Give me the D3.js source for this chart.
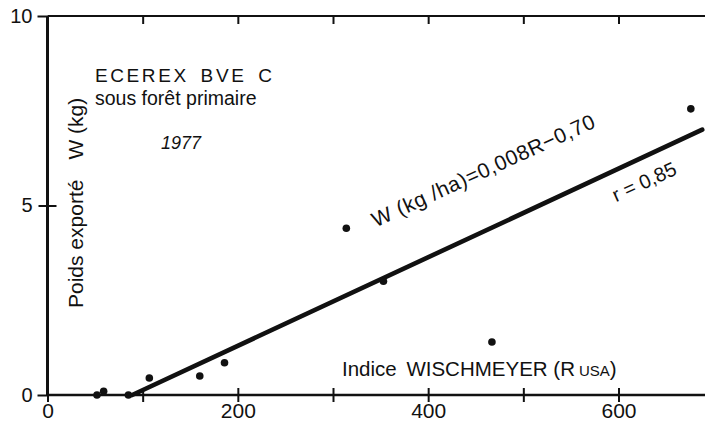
<!DOCTYPE html>
<html>
<head>
<meta charset="utf-8">
<script src="https://cdn.jsdelivr.net/npm/d3@7"></script>
<style>
  html, body { margin: 0; padding: 0; background: #fff; }
  svg { display: block; }
  text { font-family: 'Liberation Sans', Arial, Helvetica, sans-serif; fill: #111; }
</style>
</head>
<body>
<script>
/* global d3 */

// observations: Wischmeyer index R (USA) vs exported weight W (kg)
let rValues = [52, 59, 85, 107, 160, 186, 314, 353, 467, 676]
let wValues = [0, 0.1, 0, 0.45, 0.5, 0.85, 4.4, 3.0, 1.4, 7.55]

// regression line as drawn on the figure (ends)
let fitR = [89, 688]
let fitW = [0, 7.0]

let xTicks = [0, 100, 200, 300, 400, 500, 600]
let xLabelled = [0, 200, 400, 600]
let yTicks = [0, 5, 10]

let titleLines = ['ECEREX BVE C', 'sous forêt primaire']
let yearLabel = '1977'
let yLabelParts = ['Poids exporté', 'W (kg)']
let xLabel = 'Indice WISCHMEYER (R'
let xLabelSub = 'USA'
let equationLabel = 'W (kg /ha)=0,008R\u22120,70'
let corrLabel = 'r = 0,85'

function main () {
  let width = 705
  let height = 429
  let svg = d3.select('body').append('svg')
    .attr('width', width)
    .attr('height', height)

  let x = d3.scaleLinear().domain([0, 600]).range([47.5, 618.5])
  let y = d3.scaleLinear().domain([0, 10]).range([395, 16])
  let xEnd = x.invert(width)

  renderFrame({svg, x, y, xEnd})
  renderAxes({svg, x, y})
  renderFit({svg, x, y})
  renderPoints({svg, x, y})
  renderLabels({svg, x, y})
}

function renderFrame ({svg, x, y, xEnd}) {
  // left axis line
  svg.append('line')
    .attr('x1', x(0)).attr('x2', x(0))
    .attr('y1', y(10)).attr('y2', y(0))
    .attr('stroke', '#111').attr('stroke-width', 3)
  // bottom axis line
  svg.append('line')
    .attr('x1', x(0)).attr('x2', x(xEnd))
    .attr('y1', y(0)).attr('y2', y(0))
    .attr('stroke', '#111').attr('stroke-width', 2.4)
  // top frame line
  svg.append('line')
    .attr('x1', x(0)).attr('x2', x(xEnd))
    .attr('y1', y(10)).attr('y2', y(10))
    .attr('stroke', '#111').attr('stroke-width', 2.2)
}

function renderAxes ({svg, x, y}) {
  let xAxis = d3.axisBottom(x)
    .tickValues(xTicks)
    .tickSizeInner(7)
    .tickSizeOuter(0)
    .tickPadding(1)
    .tickFormat(d => xLabelled.includes(d) ? d : '')
  let xG = svg.append('g')
    .attr('transform', `translate(0, ${y(0)})`)
    .call(xAxis)
  xG.select('.domain').remove()
  xG.selectAll('.tick line')
    .attr('y1', -7)
    .attr('stroke', '#111').attr('stroke-width', 2)
  xG.selectAll('.tick text')
    .style('font-size', '21px')
    .attr('fill', '#111')

  let topAxis = d3.axisBottom(x)
    .tickValues(xTicks.filter(d => d > 0))
    .tickSizeInner(8)
    .tickSizeOuter(0)
    .tickFormat('')
  let topG = svg.append('g')
    .attr('transform', `translate(0, ${y(10)})`)
    .call(topAxis)
  topG.select('.domain').remove()
  topG.selectAll('.tick line')
    .attr('stroke', '#111').attr('stroke-width', 2)

  let yAxis = d3.axisLeft(y)
    .tickValues(yTicks)
    .tickSizeInner(10)
    .tickSizeOuter(0)
    .tickPadding(5)
  let yG = svg.append('g')
    .attr('transform', `translate(${x(0)}, 0)`)
    .call(yAxis)
  yG.select('.domain').remove()
  yG.selectAll('.tick line')
    .attr('x2', d => d === 5 ? 9 : -10)
    .attr('x1', d => d === 5 ? -9 : 0)
    .attr('stroke', '#111').attr('stroke-width', 2)
  yG.selectAll('.tick text')
    .style('font-size', '20px')
    .attr('fill', '#111')
}

function renderFit ({svg, x, y}) {
  let pts = fitR.map((r, i) => ({r, w: fitW[i]}))
  svg.append('path')
    .datum(pts)
    .attr('fill', 'none')
    .attr('stroke', '#111')
    .attr('stroke-width', 4.6)
    .attr('stroke-linecap', 'round')
    .attr('d', d3.line().x(d => x(d.r)).y(d => y(d.w)))
}

function renderPoints ({svg, x, y}) {
  let pts = rValues.map((r, i) => ({r, w: wValues[i]}))
  svg.append('g').selectAll('circle').data(pts)
    .enter()
    .append('circle')
    .attr('cx', d => x(d.r))
    .attr('cy', d => y(d.w))
    .attr('r', 3.8)
    .attr('fill', '#111')
}

function renderLabels ({svg, x, y}) {
  svg.append('text')
    .attr('x', 95).attr('y', 82)
    .style('font-size', '19px')
    .style('letter-spacing', '2.6px')
    .style('word-spacing', '4px')
    .text(titleLines[0])
  svg.append('text')
    .attr('x', 95).attr('y', 105)
    .style('font-size', '19.5px')
    .text(titleLines[1])
  svg.append('text')
    .attr('x', 181).attr('y', 149)
    .attr('text-anchor', 'middle')
    .style('font-size', '18px')
    .style('font-style', 'italic')
    .text(yearLabel)

  let yl = svg.append('text')
    .attr('transform', 'translate(83, 308) rotate(-90)')
    .style('font-size', '21px')
  yl.append('tspan').text(yLabelParts[0])
  yl.append('tspan').attr('dx', 20).text(yLabelParts[1])

  let xl = svg.append('text')
    .attr('x', 342).attr('y', 376)
    .style('font-size', '20.5px')
  xl.append('tspan').text('Indice ')
  xl.append('tspan').attr('dx', 4).text(xLabel.replace('Indice ', ''))
  xl.append('tspan').attr('dx', 4).style('font-size', '15px').text(xLabelSub)
  xl.append('tspan').text(')')

  svg.append('text')
    .attr('transform', 'translate(486.5, 177) rotate(-24.5)')
    .attr('text-anchor', 'middle')
    .style('font-size', '21px')
    .style('letter-spacing', '0.6px')
    .text(equationLabel)

  svg.append('text')
    .attr('transform', 'translate(647, 188) rotate(-24.5)')
    .attr('text-anchor', 'middle')
    .style('font-size', '20px')
    .text(corrLabel)
}

main()
</script>
</body>
</html>
